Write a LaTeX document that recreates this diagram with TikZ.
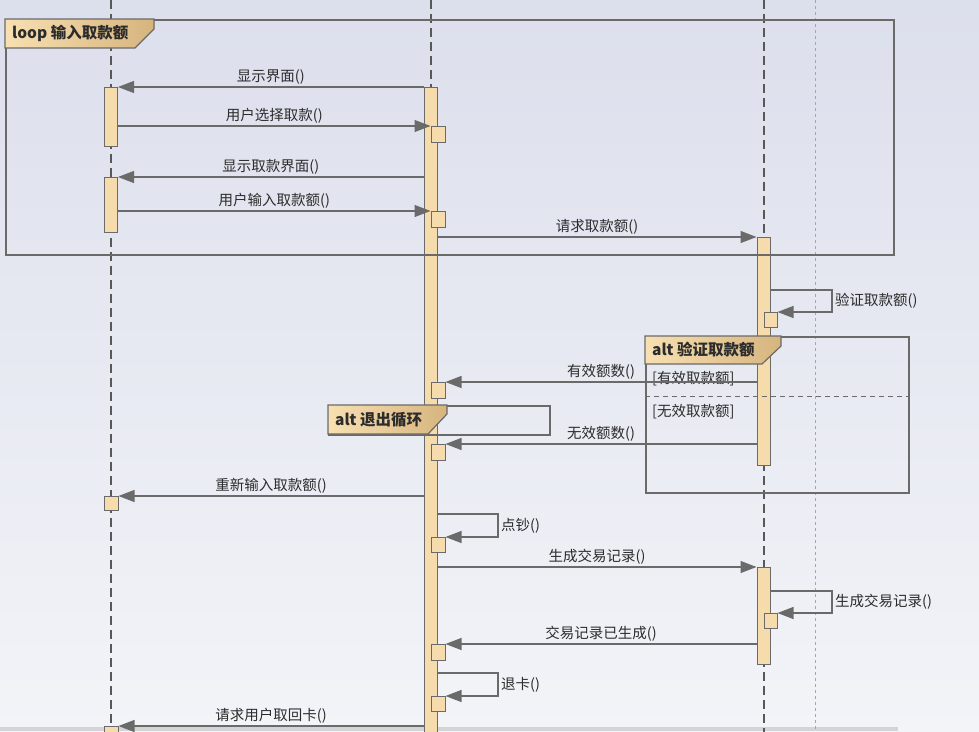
\documentclass[tikz,border=0pt]{standalone}
\usepackage{fontspec}
\setmainfont{Noto Sans CJK SC}
\usepackage{xcolor}
\usepackage{tikz}
\usetikzlibrary{arrows.meta}
\definecolor{bgtop}{HTML}{DCDFEC}
\definecolor{bgbottom}{HTML}{F3F4F8}
\definecolor{linegray}{HTML}{6A6A6A}
\definecolor{lifegray}{HTML}{585858}
\definecolor{actfill}{HTML}{F6DBAC}
\definecolor{tablight}{HTML}{F8E0B2}
\definecolor{tabdark}{HTML}{D6B47E}
\definecolor{lavender}{HTML}{A0A0D4}
\definecolor{textgray}{HTML}{2C2C2C}
\definecolor{stripgray}{HTML}{D4D4D6}

\tikzset{
  lifeline/.style={draw=lifegray, line width=1.1pt, dash pattern=on 9pt off 5pt},
  actbar/.style={draw=linegray, fill=actfill, line width=1pt, minimum width=13pt, inner sep=0pt, anchor=north},
  actbox/.style={draw=linegray, fill=actfill, line width=1pt, minimum width=14pt, minimum height=16pt, inner sep=0pt, anchor=north},
  msg/.style={draw=linegray, line width=1.2pt, -{Triangle[length=16pt,width=12pt]}},
  lbl/.style={font=\fontsize{14.5}{16}\selectfont, text=textgray, inner sep=2.5pt},
  guard/.style={lbl, anchor=west, inner sep=0pt},
  frame/.style={draw=linegray, line width=1.5pt, inner sep=0pt, anchor=north west},
  tab/.style={draw=linegray, line width=1.2pt, left color=tablight, right color=tabdark},
  tablbl/.style={font=\fontsize{15.5}{17}\selectfont\bfseries, text=textgray, anchor=west, inner sep=0pt}
}

\begin{document}
\begin{tikzpicture}[x=1pt,y=-1pt]
% background
\useasboundingbox (0,0) rectangle (979,731);
\clip (0,0) rectangle (979,731);
\fill[top color=bgtop, bottom color=bgbottom] (0,0) rectangle (979,731);
\fill[stripgray] (0,727) rectangle (898,731);

% lifelines
\foreach \n/\x in {user/111,atm/431,bank/764}{
  \coordinate (\n top) at (\x,0);
  \coordinate (\n bot) at (\x,740);
  \draw[lifeline] (\n top) -- (\n bot);
}
\coordinate (dtop) at (815,0);
\coordinate (dbot) at (815,740);
\draw[lavender, line width=0.9pt, dash pattern=on 3pt off 3pt] (dtop) -- (dbot);

% activations
\node[actbar, minimum height=59pt] (ua) at (111,87) {};
\node[actbar, minimum height=55pt] (ub) at (111,177) {};
\node[actbox, minimum height=14pt] (uc) at (111,496) {};
\node[actbox, minimum height=14pt] (ud) at (111,726) {};
\node[actbar, minimum height=680pt] (atm) at (430.5,87) {};
\node[actbox] (s1) at (438,126) {};
\node[actbox] (s2) at (438,211) {};
\node[actbox] (s3) at (438,382) {};
\node[actbox] (s4) at (438,444) {};
\node[actbox, minimum height=15pt] (s5) at (438,537) {};
\node[actbox] (s6) at (438,644) {};
\node[actbox, minimum height=15pt] (s7) at (438,696) {};
\node[actbar, minimum height=228pt] (bank1) at (763.5,237) {};
\node[actbox, minimum width=13pt, minimum height=15pt] (v1) at (770.5,312) {};
\node[actbar, minimum height=97pt] (bank2) at (763.5,567) {};
\node[actbox, minimum width=13pt, minimum height=15pt] (v2) at (770.5,613) {};

% fragments
\node[frame, minimum width=888pt, minimum height=235pt] (loopfr) at (5,19) {};
\node[frame, minimum width=263pt, minimum height=156pt] (altcheck) at (645,336) {};
\node[frame, minimum width=221pt, minimum height=29pt] (altexit) at (328,405) {};
\coordinate (sep) at (700,396);
\draw[linegray, line width=1pt, dash pattern=on 5pt off 4pt] (altcheck.west |- sep) -- (altcheck.east |- sep);
\node[guard] (g1) at (652,379) {[有效取款额]};
\node[guard] (g2) at (652,412) {[无效取款额]};

% messages
\draw[msg] (atm.north west) -- node[lbl, above] (m1) {显示界面()} (ua.north east);
\draw[msg] (ua.east |- s1.north) -- node[lbl, above] (m2) {用户选择取款()} (s1.north west);
\draw[msg] (atm.west |- ub.north) -- node[lbl, above] (m3) {显示取款界面()} (ub.north east);
\draw[msg] (ub.east |- s2.north) -- node[lbl, above] (m4) {用户输入取款额()} (s2.north west);
\draw[msg] (atm.east |- bank1.north) -- node[lbl, above] (m5) {请求取款额()} (bank1.north west);
\coordinate (c6) at (832,290);
\draw[msg] (bank1.east |- c6) -- (c6) |- node[lbl, right, pos=0.25] (m6) {验证取款额()} (v1.north east);
\draw[msg] (bank1.west |- s3.north) -- node[lbl, above] (m7) {有效额数()} (s3.north east);
\draw[msg] (bank1.west |- s4.north) -- node[lbl, above] (m8) {无效额数()} (s4.north east);
\draw[msg] (atm.west |- uc.north) -- node[lbl, above] (m9) {重新输入取款额()} (uc.north east);
\coordinate (c10) at (498,514);
\draw[msg] (atm.east |- c10) -- (c10) |- node[lbl, right, pos=0.25] (m10) {点钞()} (s5.north east);
\draw[msg] (atm.east |- bank2.north) -- node[lbl, above] (m11) {生成交易记录()} (bank2.north west);
\coordinate (c12) at (832,591);
\draw[msg] (bank2.east |- c12) -- (c12) |- node[lbl, right, pos=0.25] (m12) {生成交易记录()} (v2.north east);
\draw[msg] (bank2.west |- s6.north) -- node[lbl, above] (m13) {交易记录已生成()} (s6.north east);
\coordinate (c14) at (498,673);
\draw[msg] (atm.east |- c14) -- (c14) |- node[lbl, right, pos=0.25] (m14) {退卡()} (s7.north east);
\draw[msg] (atm.west |- ud.north) -- node[lbl, above] (m15) {请求用户取回卡()} (ud.north east);

% fragment tabs
\draw[tab] (loopfr.north west) -- ++(149,0) -- ++(0,10) -- ++(-19,19) -- ++(-130,0) -- cycle;
\node[tablbl] (looptxt) at (12,33.5) {loop 输入取款额};
\draw[tab] (altcheck.north west) -- ++(136,0) -- ++(0,10) -- ++(-19,18) -- ++(-117,0) -- cycle;
\node[tablbl] (checktxt) at (652,350) {alt 验证取款额};
\draw[tab] (altexit.north west) -- ++(119,0) -- ++(0,9) -- ++(-19,20) -- ++(-100,0) -- cycle;
\node[tablbl] (exittxt) at (335,419.5) {alt 退出循环};
\end{tikzpicture}
\end{document}
